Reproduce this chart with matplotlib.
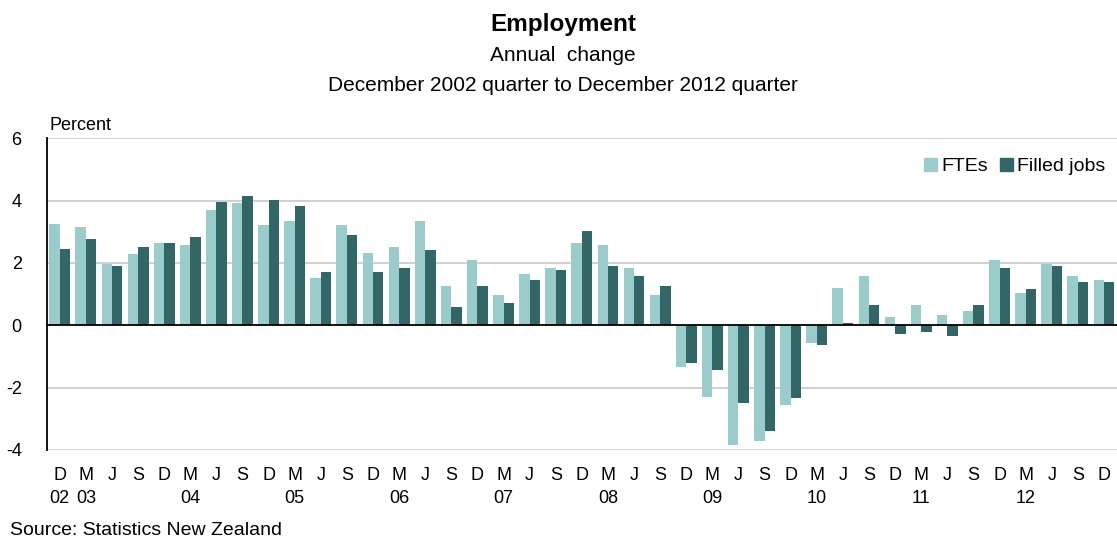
import numpy as np
import matplotlib.pyplot as plt
from matplotlib.patches import Patch
from matplotlib.ticker import FixedLocator, FixedFormatter

plt.rcParams['font.family'] = ['Liberation Sans', 'DejaVu Sans']

#%% datos
trimestres = ['D', 'M', 'J', 'S'] * 10 + ['D']
anios = {0: '02', 1: '03', 5: '04', 9: '05', 13: '06', 17: '07',
         21: '08', 25: '09', 29: '10', 33: '11', 37: '12'}

ftes = [3.26, 3.14, 1.96, 2.27, 2.64, 2.58, 3.71, 3.91, 3.21, 3.33,
        1.52, 3.21, 2.33, 2.52, 3.33, 1.27, 2.08, 0.96, 1.65, 1.83,
        2.65, 2.58, 1.83, 0.96, -1.33, -2.29, -3.83, -3.70, -2.55, -0.56,
        1.20, 1.58, 0.26, 0.65, 0.32, 0.46, 2.08, 1.02, 1.96, 1.58,
        1.46]
filled_jobs = [2.46, 2.77, 1.90, 2.52, 2.64, 2.83, 3.96, 4.15, 4.02, 3.83,
               1.71, 2.90, 1.70, 1.83, 2.40, 0.58, 1.27, 0.71, 1.46, 1.77,
               3.02, 1.90, 1.58, 1.27, -1.20, -1.44, -2.48, -3.38, -2.35, -0.62,
               0.08, 0.65, -0.29, -0.23, -0.35, 0.65, 1.83, 1.15, 1.90, 1.40,
               1.40]

#%% grafico
c_fte = '#9bcccc'
c_fil = '#336666'

fig = plt.figure(figsize=(11.17, 5.44), dpi=100)
ax = fig.add_axes([0.0418, 0.173, 0.9582, 0.573])

x = np.arange(len(ftes))
ax.bar(x - 0.2, ftes, width=0.4, color=c_fte, zorder=2)
ax.bar(x + 0.2, filled_jobs, width=0.4, color=c_fil, zorder=2)

ax.set_xlim(-0.5, len(ftes) - 0.5)
ax.set_ylim(-4, 6)
ax.set_yticks([-4, -2, 0, 2, 4, 6])
ax.set_yticklabels(['-4', '-2', '0', '2', '4', '6'])
for g in [-4, -2, 2, 4, 6]:
    ax.axhline(g, color='#c8c8c8', lw=1.2, zorder=1)
ax.axhline(0, color='black', lw=1.3, zorder=3)

for s in ['top', 'right', 'bottom']:
    ax.spines[s].set_visible(False)
ax.spines['left'].set_linewidth(1.3)

ax.set_xticks(x)
ax.set_xticklabels(trimestres)
ax.xaxis.remove_overlapping_locs = False
ax.xaxis.set_minor_locator(FixedLocator(list(anios.keys())))
ax.xaxis.set_minor_formatter(FixedFormatter(list(anios.values())))
ax.tick_params(axis='x', which='major', length=0, pad=12, labelsize=13)
ax.tick_params(axis='x', which='minor', length=0, pad=29, labelsize=13)
ax.tick_params(axis='y', length=0, pad=18, labelsize=13)

ax.text(0.003, 1.015, 'Percent', transform=ax.transAxes, fontsize=13,
        ha='left', va='bottom')

handles = [Patch(color=c_fte, label='FTEs'), Patch(color=c_fil, label='Filled jobs')]
ax.legend(handles=handles, loc='upper right', ncol=2, frameon=False,
          fontsize=14, handlelength=0.7, handleheight=0.7, handletextpad=0.2,
          columnspacing=0.6, borderaxespad=0.2, bbox_to_anchor=(1.0, 0.975))

fig.text(0.504, 0.955, 'Employment', ha='center', va='center',
         fontsize=17.5, fontweight='bold')
fig.text(0.504, 0.898, 'Annual  change', ha='center', va='center', fontsize=15)
fig.text(0.504, 0.842, 'December 2002 quarter to December 2012 quarter',
         ha='center', va='center', fontsize=15)
fig.text(0.009, 0.024, 'Source: Statistics New Zealand', ha='left',
         va='center', fontsize=14)

plt.savefig('out.png', dpi=100)
